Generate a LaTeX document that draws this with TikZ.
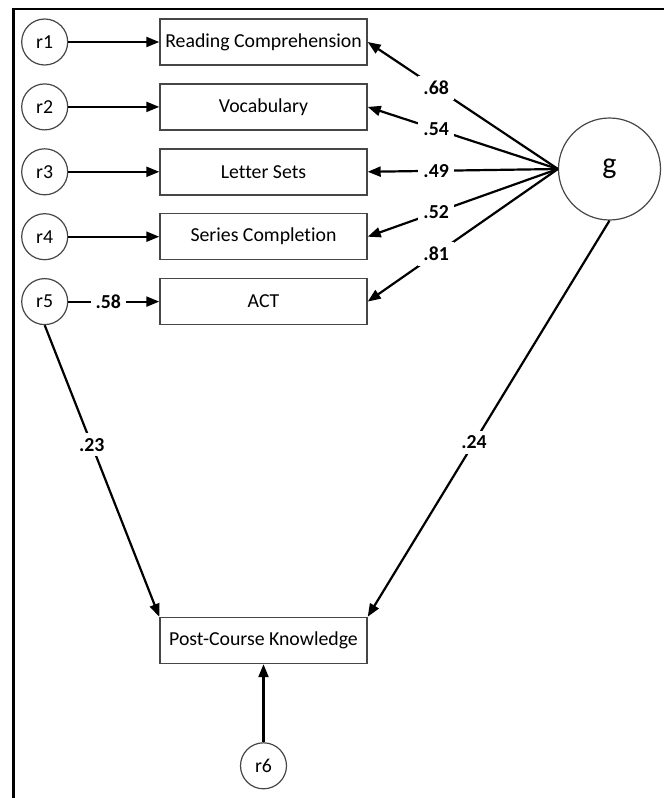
\documentclass[tikz,border=0pt]{standalone}
\usepackage{fontspec}
\setmainfont{Carlito}[Ligatures=NoCommon]
\usetikzlibrary{arrows.meta, positioning}
\definecolor{boxline}{RGB}{70,70,70}

\begin{document}
\begin{tikzpicture}[x=1pt, y=-1pt,
  node distance=17.5pt and 91pt,
  obs/.style={draw=boxline, line width=1.4pt, minimum height=46pt, minimum width=207pt, inner sep=2pt, align=center, font=\fontsize{19.8}{24}\selectfont},
  res/.style={circle, draw=boxline, line width=1.2pt, minimum size=46pt, inner sep=0pt, font=\fontsize{19.8}{24}\selectfont},
  lat/.style={res, minimum size=102pt, font=\fontsize{30}{34}\selectfont},
  coef/.style={fill=white, inner sep=5pt, font=\fontsize{19.8}{24}\selectfont\bfseries},
  arr/.style={-{Triangle[length=13pt, width=10pt]}, line width=2.2pt}]

  \useasboundingbox (0,0) rectangle (664,798);
  \draw[line width=2.5pt] (13.5,798) -- (13.5,9) -- (664,9);

  % indicators
  \node[obs] (rc) at (263.5,42) {Reading Comprehension};
  \node[obs, below=of rc] (voc) {Vocabulary};
  \node[obs, below=of voc] (ls) {Letter Sets};
  \node[obs, below=of ls] (sc) {Series Completion};
  \node[obs, below=of sc] (act) {ACT};

  % residuals
  \node[res, left=of rc] (r1) {r1};
  \node[res, left=of voc] (r2) {r2};
  \node[res, left=of ls] (r3) {r3};
  \node[res, left=of sc] (r4) {r4};
  \node[res, left=of act] (r5) {r5};

  \node[lat] (g) at (609.5,169) {g};
  \node[obs] (pck) at (263.5,640.5) {Post-Course Knowledge};
  \node[res, below=78pt of pck] (r6) {r6};

  \foreach \i/\b in {1/rc, 2/voc, 3/ls, 4/sc}
    \draw[arr] (r\i) -- (\b);
  \draw[arr] (r5) -- node[coef, pos=0.44]{.58} (act);

  % loadings
  \draw[arr] (g.west) -- node[coef, pos=0.64]{.68} (rc.east);
  \draw[arr] (g.west) -- node[coef, pos=0.64]{.54} (voc.east);
  \draw[arr] (g.west) -- node[coef, pos=0.64]{.49} (ls.east);
  \draw[arr] (g.west) -- node[coef, pos=0.64]{.52} (sc.east);
  \draw[arr] (g.west) -- node[coef, pos=0.64]{.81} (act.east);

  \draw[arr] (r5.south) -- node[coef, pos=0.41]{.23} (pck.north west);
  \draw[arr] (g.south) -- node[coef, pos=0.56]{.24} (pck.north east);
  \draw[arr] (r6) -- (pck);
\end{tikzpicture}
\end{document}
